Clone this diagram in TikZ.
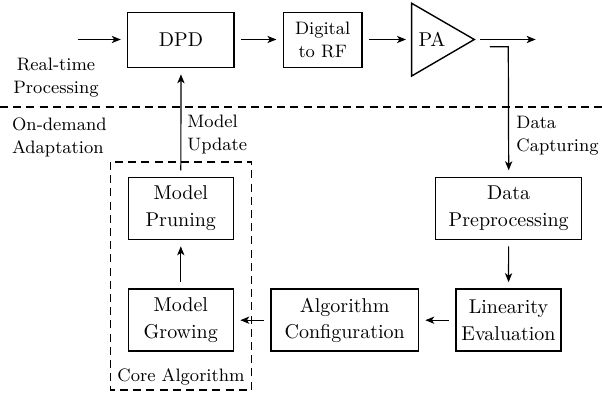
\documentclass[tikz,border=0pt]{standalone}
\usetikzlibrary{arrows.meta}
\begin{document}
\begin{tikzpicture}[x=0.5pt,y=-0.5pt,
  box/.style={draw,line width=0.7pt,inner sep=0pt,outer sep=3.5pt,align=center,font=\fontsize{10}{13.3}\selectfont},
  lbl/.style={inner sep=0pt,font=\fontsize{9}{11.5}\selectfont},
  arr/.style={line width=0.6pt,-{Stealth[length=4.5pt,width=3.6pt,inset=1.2pt]}},
  sep/.style={line width=0.6pt,dash pattern=on 4pt off 2.6pt}]
\useasboundingbox (0,0) rectangle (602,396);
% top row
\node[box,minimum width=53.2pt,minimum height=27.5pt] (dpd) at (181,39.8) {DPD};
\node[box,minimum width=39.3pt,minimum height=27.5pt,font=\fontsize{9}{11.5}\selectfont] (d2rf) at (322.7,39.8) {Digital\\to RF};
\draw[line width=0.7pt] (411.7,3.3) -- (474.3,39.5) -- (411.7,76) -- cycle;
\node[inner sep=0pt] (pa) at (432,39.5) {PA};
\coordinate (pain) at (406,39.5);
\coordinate (paout) at (480,39.5);
\coordinate (in) at (77.7,39.5);
\coordinate (out) at (535.7,39.5);
\coordinate (tap) at (490,46.7);
\coordinate (tapc) at (508.3,46.7);
\draw[arr] (in) -- (dpd.west |- in);
\draw[arr] (dpd.east |- in) -- (d2rf.west |- in);
\draw[arr] (d2rf.east |- in) -- (pain);
\draw[arr] (paout) -- (out);
% separator
\draw[sep] (0,107) -- (602,107);
\node[lbl,align=center] (rt) at (56,78) {Real-time\\Processing};
\node[lbl,align=left,anchor=west] (od) at (11.7,137.5) {On-demand\\Adaptation};
% lower part
\node[box,minimum width=52.5pt,minimum height=31pt] (prune) at (180.8,208.3) {Model\\Pruning};
\node[box,minimum width=52.5pt,minimum height=31pt] (grow) at (180.8,320.2) {Model\\Growing};
\node[box,minimum width=73pt,minimum height=31pt] (dprep) at (508.7,208.3) {Data\\Preprocessing};
\node[box,minimum width=52.5pt,minimum height=31pt] (lin) at (508.5,320.2) {Linearity\\Evaluation};
\node[box,minimum width=73.6pt,minimum height=31pt] (algo) at (344.7,320.2) {Algorithm\\Configuration};
\draw[sep] (110.5,162) rectangle (251.7,390);
\node[lbl] (core) at (181,376.5) {Core Algorithm};
\node[lbl,align=left,anchor=west] (mu) at (187,134) {Model\\Update};
\node[lbl,align=left,anchor=west] (dc) at (516,136) {Data\\Capturing};
% connectors
\draw[arr] (tap) -- (tapc) -- (dprep.north);
\draw[arr] (dprep) -- (lin);
\draw[arr] (lin) -- (algo);
\draw[arr] (algo) -- (grow);
\draw[arr] (grow) -- (prune);
\draw[arr] (prune) -- (dpd);
\end{tikzpicture}
\end{document}
